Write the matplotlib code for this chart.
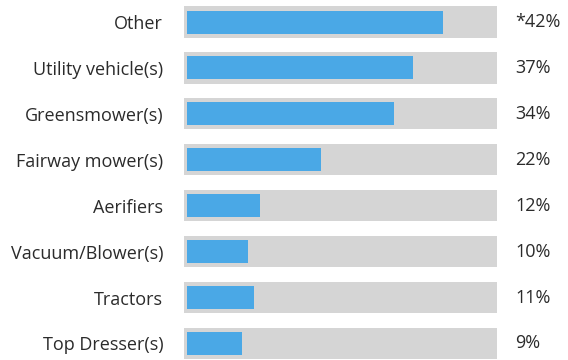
import matplotlib.pyplot as plt

categories = ['Other', 'Utility vehicle(s)', 'Greensmower(s)', 'Fairway mower(s)',
              'Aerifiers', 'Vacuum/Blower(s)', 'Tractors', 'Top Dresser(s)']
values = [42, 37, 34, 22, 12, 10, 11, 9]
value_labels = ['*42%', '37%', '34%', '22%', '12%', '10%', '11%', '9%']

track_max = 50.8
blue = '#4aa8e6'
grey = '#d5d5d5'
text_col = '#2b2b2b'

plt.rcParams['font.family'] = ['Open Sans', 'DejaVu Sans']

fig = plt.figure(figsize=(5.68, 3.6), dpi=100)
# axes placed in pixel terms: left 184px, right 497px, full height
ax = fig.add_axes([184 / 568, 0, (497 - 184) / 568, 1])

ypos = list(range(len(categories)))
ax.barh(ypos, [track_max + 0.5] * len(ypos), left=-0.5, height=0.68,
        color=grey, zorder=1)
ax.barh(ypos, values, height=0.5, color=blue, zorder=2)

ax.set_xlim(-0.5, track_max)
ax.set_ylim(7.36, -0.48)

ax.set_yticks(ypos)
ax.set_yticklabels(categories, fontsize=13, color=text_col)
ax.tick_params(axis='y', length=0, pad=15)
ax.set_xticks([])
for s in ax.spines.values():
    s.set_visible(False)

for y, lab in zip(ypos, value_labels):
    ax.annotate(lab, xy=(1, y), xycoords=('axes fraction', 'data'),
                xytext=(13, 0), textcoords='offset points',
                ha='left', va='center', fontsize=13, color=text_col)

fig.savefig('out.png', dpi=100)
